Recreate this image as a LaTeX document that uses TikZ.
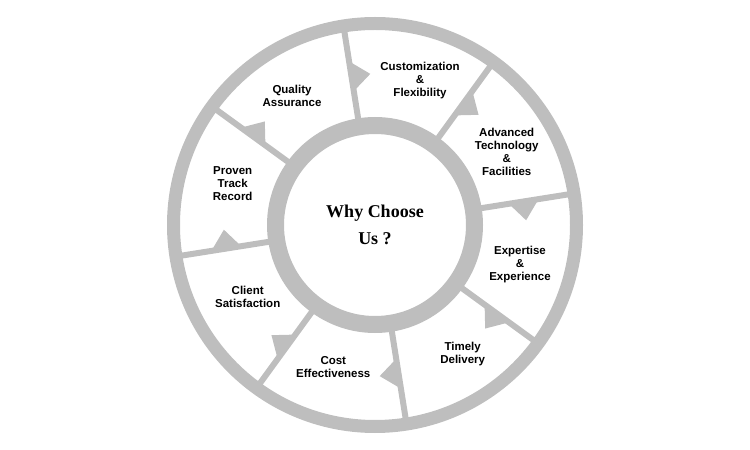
\documentclass[tikz,border=0pt]{standalone}
\usepackage{fontspec}
\setmainfont{Liberation Sans}
\newfontfamily\serifbold{Liberation Serif}
\definecolor{ringgrey}{RGB}{190,190,190}
\begin{document}
\begin{tikzpicture}[x=1pt,y=1pt,
  lbl/.style={align=center,font=\fontsize{11.5}{13}\selectfont\bfseries,inner sep=0pt},
  ctr/.style={align=center,font=\fontsize{18}{26.7}\selectfont\serifbold\bfseries,inner sep=0pt},
  ring/.style={draw=ringgrey},
  spoke/.style={draw=ringgrey,line width=6pt},
  tri/.style={fill=ringgrey}]
\useasboundingbox (0,0) rectangle (750,450);
\coordinate (c) at (375,225);
% outer ring and inner ring
\draw[ring,line width=13pt] (c) circle[radius=201.5];
\draw[ring,line width=17pt] (c) circle[radius=99.5];
% spokes with triangles
\foreach \a in {9,54,99,144,189,234,279,324}{
  \begin{scope}[shift={(c)},rotate=\a]
    \draw[spoke] (100,0) -- (201,0);
    \fill[tri] (137,-2) -- (150,-19) -- (164,-2) -- cycle;
  \end{scope}
}
\node[ctr] (why) at (c) {Why Choose\\Us ?};
\node[lbl] (qa) at (292,354.5) {Quality\\Assurance};
\node[lbl] (cf) at (420,369) {Customization\\\&\\Flexibility};
\node[lbl] (at) at (506.7,297.8) {Advanced\\Technology\\\&\\Facilities};
\node[lbl] (ee) at (520,185) {Expertise\\\&\\Experience};
\node[lbl] (td) at (462.7,96.3) {Timely\\Delivery};
\node[lbl] (ce) at (333.3,82.7) {Cost\\Effectiveness};
\node[lbl] (cs) at (247.7,153) {Client\\Satisfaction};
\node[lbl] (pt) at (232.7,266.3) {Proven\\Track\\Record};
\end{tikzpicture}
\end{document}
